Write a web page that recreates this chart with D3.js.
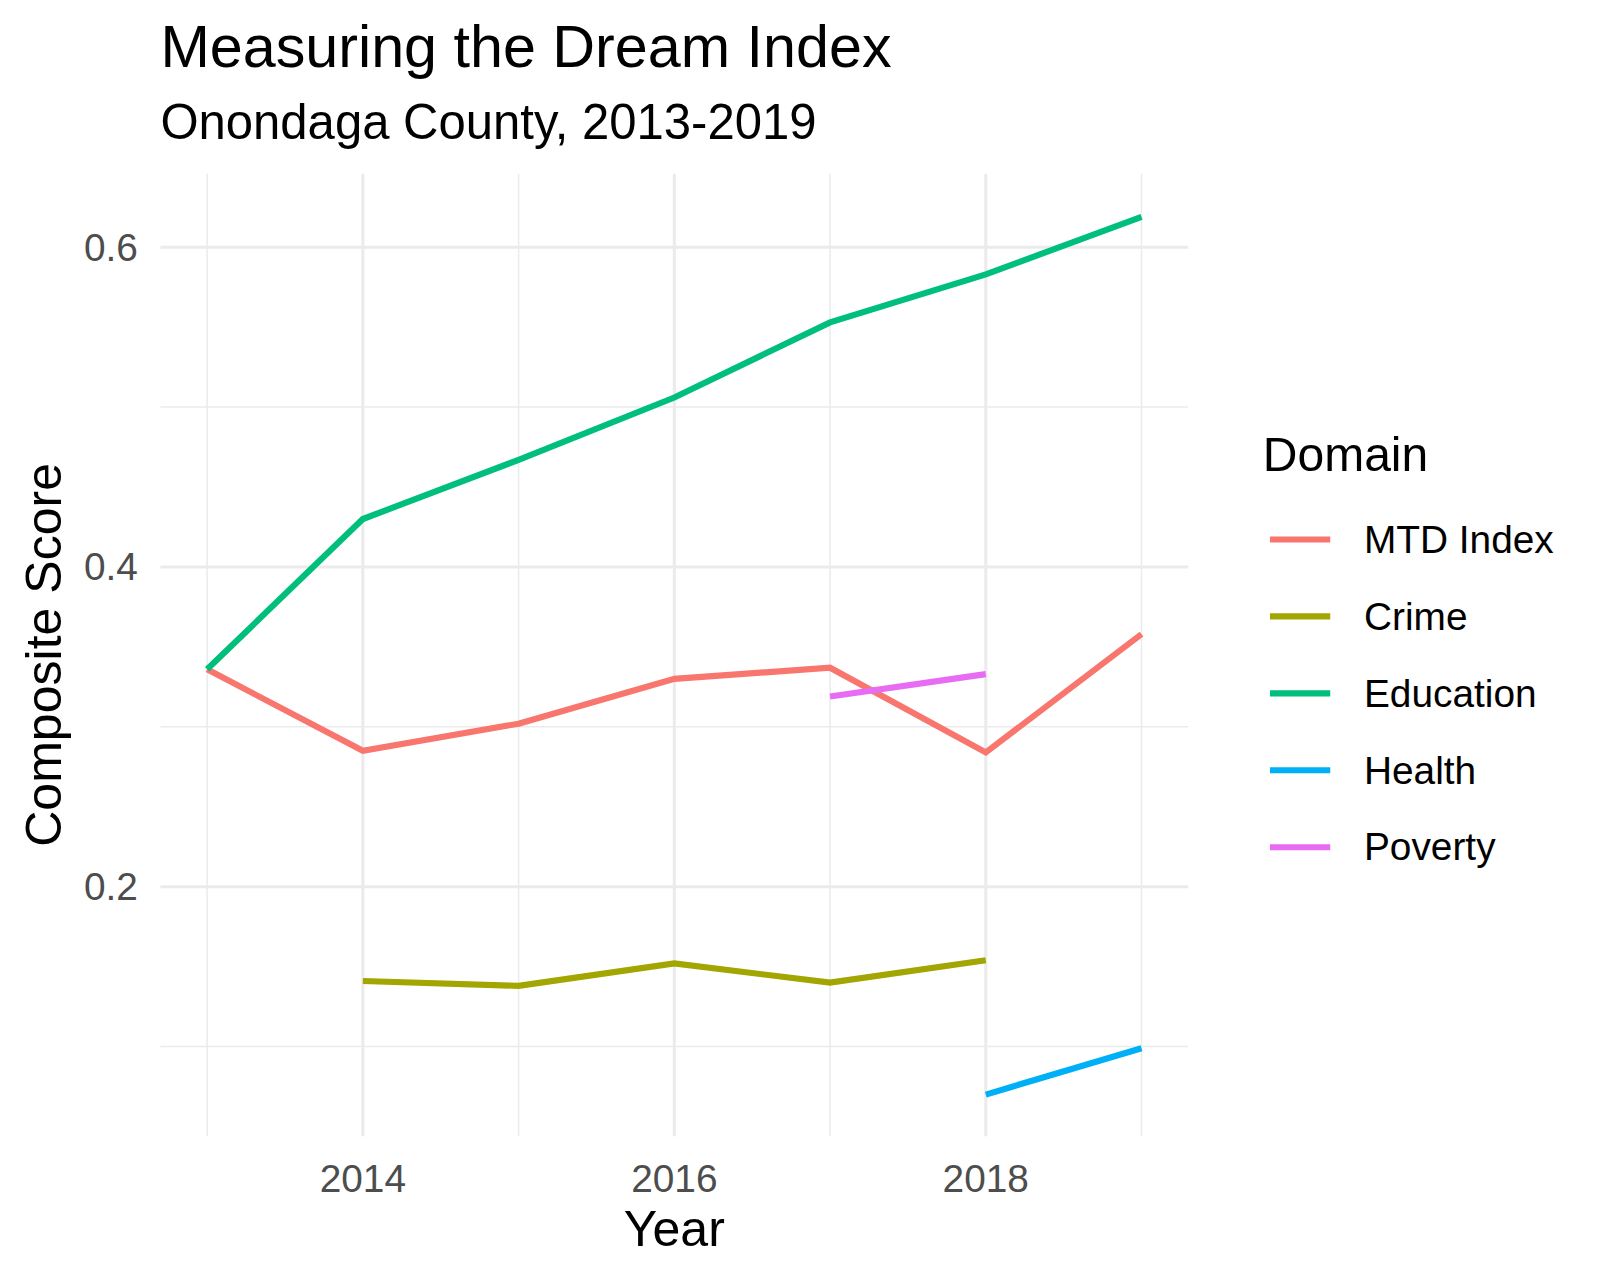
<!DOCTYPE html>
<html><head><meta charset="utf-8">
<script src="https://cdn.jsdelivr.net/npm/d3@7"></script>
<style>body{margin:0;background:#fff;font-family:Arial,"Liberation Sans",sans-serif;}</style>
</head><body>
<script>
var width = 1600, height = 1280;
var domains = ["MTD Index", "Crime", "Education", "Health", "Poverty"];
var colors = ["#F8766D", "#A3A500", "#00BF7D", "#00B0F6", "#E76BF3"];
var mtdYears = [2013, 2014, 2015, 2016, 2017, 2018, 2019];
var mtdValues = [0.336, 0.285, 0.302, 0.330, 0.337, 0.284, 0.358];
var crimeYears = [2014, 2015, 2016, 2017, 2018];
var crimeValues = [0.141, 0.138, 0.152, 0.140, 0.154];
var eduYears = [2013, 2014, 2015, 2016, 2017, 2018, 2019];
var eduValues = [0.336, 0.430, 0.467, 0.506, 0.553, 0.583, 0.619];
var healthYears = [2018, 2019];
var healthValues = [0.070, 0.099];
var povYears = [2017, 2018];
var povValues = [0.319, 0.333];
var xTicks = [2014, 2016, 2018];
var xMinor = [2013, 2015, 2017, 2019];
var yTicks = [0.2, 0.4, 0.6];
var yMinor = [0.1, 0.3, 0.5];

var series = [
  {name: domains[0], years: mtdYears, vals: mtdValues},
  {name: domains[1], years: crimeYears, vals: crimeValues},
  {name: domains[2], years: eduYears, vals: eduValues},
  {name: domains[3], years: healthYears, vals: healthValues},
  {name: domains[4], years: povYears, vals: povValues}
];

var L = 157, R = 1163, T = 170, B = 1112;
var x = d3.scaleLinear().domain([2012.7, 2019.3]).range([L, R]);
var y = d3.scaleLinear().domain([0.044, 0.646]).range([B, T]);
var color = d3.scaleOrdinal().domain(domains).range(colors);

var svg = d3.select("body").append("svg").attr("width", width).attr("height", height)
  .append("g").attr("transform", "scale(1.0217)");

//grid
svg.selectAll(".ymin").data(yMinor).enter().append("line")
  .attr("x1", L).attr("x2", R).attr("y1", y).attr("y2", y)
  .style("stroke", "#ebebeb").style("stroke-width", 1.5);
svg.selectAll(".xmin").data(xMinor).enter().append("line")
  .attr("y1", T).attr("y2", B).attr("x1", x).attr("x2", x)
  .style("stroke", "#ebebeb").style("stroke-width", 1.5);
svg.selectAll(".ymaj").data(yTicks).enter().append("line")
  .attr("x1", L).attr("x2", R).attr("y1", y).attr("y2", y)
  .style("stroke", "#ebebeb").style("stroke-width", 3);
svg.selectAll(".xmaj").data(xTicks).enter().append("line")
  .attr("y1", T).attr("y2", B).attr("x1", x).attr("x2", x)
  .style("stroke", "#ebebeb").style("stroke-width", 3);

//tick labels
svg.selectAll(".yl").data(yTicks).enter().append("text")
  .attr("x", 135).attr("y", function(d){ return y(d) + 13; })
  .attr("text-anchor", "end").style("font-size", "38px").style("fill", "#4d4d4d")
  .text(function(d){ return d3.format(".1f")(d); });
svg.selectAll(".xl").data(xTicks).enter().append("text")
  .attr("x", x).attr("y", 1167)
  .attr("text-anchor", "middle").style("font-size", "38px").style("fill", "#4d4d4d")
  .text(function(d){ return d; });

//lines
var line = d3.line().x(function(d){ return x(d[0]); }).y(function(d){ return y(d[1]); });
svg.selectAll(".series").data(series).enter().append("path")
  .attr("d", function(s){ return line(d3.zip(s.years, s.vals)); })
  .style("fill", "none").style("stroke", function(s){ return color(s.name); })
  .style("stroke-width", 6);

//titles
svg.append("text").attr("x", 157).attr("y", 66).style("font-size", "58px").text("Measuring the Dream Index");
svg.append("text").attr("x", 157).attr("y", 136).style("font-size", "48px").text("Onondaga County, 2013-2019");
svg.append("text").attr("x", x(2016)).attr("y", 1220).attr("text-anchor", "middle").style("font-size", "49px").text("Year");
svg.append("text").attr("transform", "translate(60," + ((T + B) / 2) + ") rotate(-90)")
  .attr("text-anchor", "middle").style("font-size", "49px").text("Composite Score");

//legend
svg.append("text").attr("x", 1236).attr("y", 461).style("font-size", "47px").text("Domain");
var lg = svg.selectAll(".lg").data(domains).enter().append("g")
  .attr("transform", function(d, i){ return "translate(0," + (528 + i * 75.3) + ")"; });
lg.append("line").attr("x1", 1243).attr("x2", 1302)
  .style("stroke", function(d){ return color(d); }).style("stroke-width", 6);
lg.append("text").attr("x", 1335).attr("y", 13).style("font-size", "38px").text(function(d){ return d; });
</script>
</body></html>
